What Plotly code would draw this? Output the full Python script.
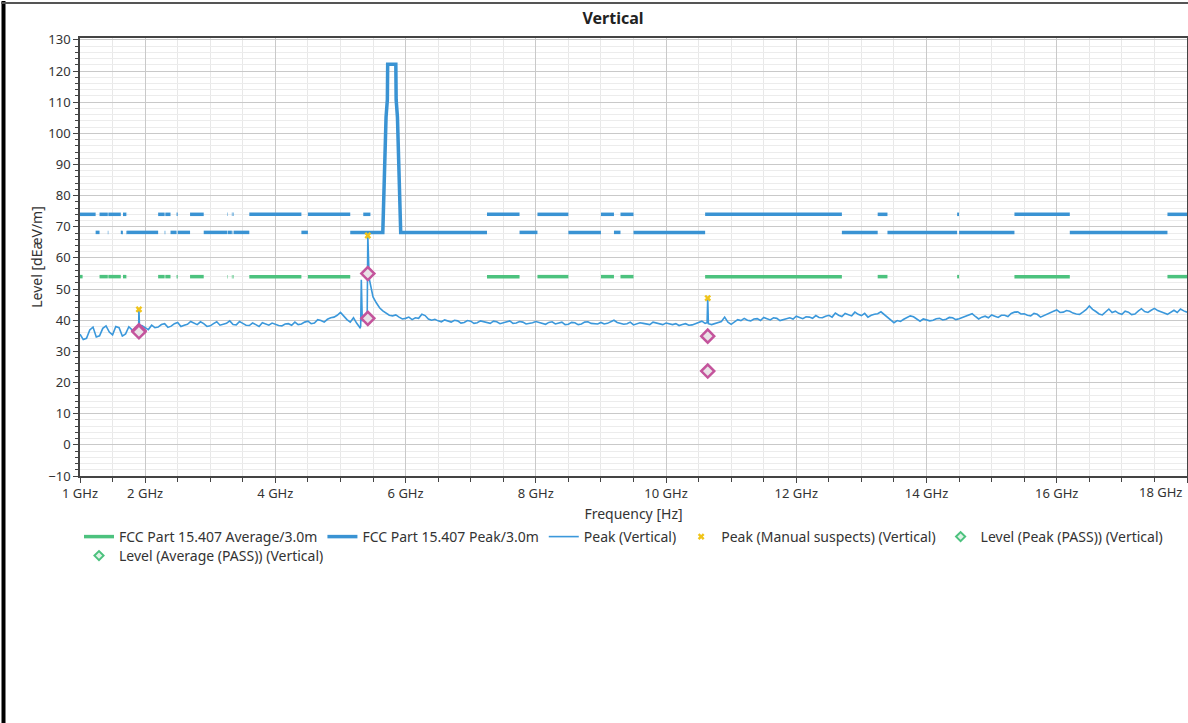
import numpy as np
import plotly.graph_objects as go

# ---- limit lines (GHz, dBuV/m) ----
# restricted bands: peak limit 74, average limit 54
restricted_bands = [
    (1.0, 1.24), (1.3, 1.427), (1.435, 1.6265), (1.6455, 1.6465), (1.66, 1.71),
    (1.7188, 1.7222), (2.2, 2.3), (2.31, 2.39), (2.4835, 2.5), (2.69, 2.9),
    (3.26, 3.267), (3.332, 3.339), (3.3458, 3.358), (3.6, 4.4), (4.5, 5.15),
    (5.35, 5.46), (7.25, 7.75), (8.025, 8.5), (9.0, 9.2), (9.3, 9.5),
    (10.6, 12.7), (13.25, 13.4), (14.47, 14.5), (15.35, 16.2), (17.7, 18.0),
]
avg_bands = [
    (1.0, 1.04), (1.3, 1.427), (1.435, 1.6265), (1.6455, 1.6465), (1.66, 1.71),
    (1.7188, 1.7222), (2.2, 2.3), (2.31, 2.39), (2.4835, 2.5), (2.69, 2.9),
    (3.26, 3.267), (3.332, 3.339), (3.3458, 3.358), (3.6, 4.4), (4.5, 5.15),
    (7.25, 7.75), (8.025, 8.5), (9.0, 9.2), (9.3, 9.5),
    (10.6, 12.7), (13.25, 13.4), (14.47, 14.5), (15.35, 16.2), (17.7, 18.0),
]
# non-restricted stretches: peak limit 68.2
open_bands = [
    (1.24, 1.3), (1.427, 1.435), (1.6265, 1.6455), (1.6465, 1.66), (1.71, 1.7188),
    (1.7222, 2.2), (2.3, 2.31), (2.39, 2.4835), (2.5, 2.69), (2.9, 3.26),
    (3.267, 3.332), (3.339, 3.3458), (3.358, 3.6), (4.4, 4.5),
    (7.75, 8.025), (8.5, 9.0), (9.2, 9.3), (9.5, 10.6), (12.7, 13.25),
    (13.4, 14.47), (14.5, 15.35), (16.2, 17.7),
]
# 5.15-7.25 GHz stretch with the 5.725-5.85 GHz band mask
mask_freq = [5.15, 5.65, 5.7, 5.72, 5.725, 5.85, 5.855, 5.875, 5.925, 7.25]
mask_level = [68.2, 68.2, 105.2, 110.8, 122.2, 122.2, 110.8, 105.2, 68.2, 68.2]
peak_restricted_level = 74.0
peak_open_level = 68.2
avg_level = 54.0

# ---- measured peak trace ----
# points on the 0.1 GHz grid (1.0 ... 18.0)
sweep_freq = np.round(np.arange(1.0, 18.001, 0.1), 2)
sweep_level = [
    35.5, 34.2, 37.8, 35.0, 38.2, 35.3, 37.6, 35.6, 36.9, 37.0,   # 1.0-1.9
    37.6, 38.4, 37.8, 38.9, 38.1, 39.3, 38.4, 39.6, 38.6, 38.9,   # 2.0-2.9
    38.2, 39.5, 38.7, 39.8, 38.5, 39.0, 38.3, 38.6, 39.2, 38.4,   # 3.0-3.9
    38.7, 38.2, 38.9, 39.4, 38.8, 39.7, 39.1, 39.9, 40.3, 41.0,   # 4.0-4.9
    42.5, 40.2, 40.8, 37.6, 40.9, 47.5, 44.0, 42.2, 41.4, 41.0,   # 5.0-5.9
    40.6, 40.2, 40.6, 41.5, 40.0, 39.8, 40.1, 39.4, 39.8, 39.3,   # 6.0-6.9
    39.7, 39.2, 39.6, 39.0, 39.5, 39.2, 39.8, 39.1, 39.4, 38.9,   # 7.0-7.9
    39.6, 39.0, 39.3, 38.8, 39.4, 38.7, 39.2, 38.8, 39.5, 38.9,   # 8.0-8.9
    39.3, 39.0, 40.0, 39.1, 38.9, 38.5, 39.2, 38.9, 39.4, 38.8,   # 9.0-9.9
    39.1, 38.6, 38.3, 38.9, 38.5, 39.4, 39.0, 38.6, 39.3, 41.0,   # 10.0-10.9
    38.7, 40.2, 40.6, 39.8, 40.5, 40.9, 40.1, 40.6, 40.2, 40.8,   # 11.0-11.9
    41.3, 40.5, 41.0, 41.5, 40.8, 41.6, 42.3, 41.2, 41.8, 42.6,   # 12.0-12.9
    41.5, 41.0, 41.9, 42.7, 40.8, 39.2, 39.6, 40.8, 41.1, 39.7,   # 13.0-13.9
    40.2, 40.0, 40.6, 40.3, 40.8, 40.5, 41.2, 42.1, 40.4, 41.3,   # 14.0-14.9
    41.7, 40.9, 41.6, 42.2, 42.7, 42.1, 41.4, 41.9, 41.5, 42.4,   # 15.0-15.9
    43.3, 42.6, 42.9, 42.0, 42.6, 44.6, 42.8, 41.7, 43.6, 42.9,   # 16.0-16.9
    41.9, 42.6, 42.0, 43.7, 42.5, 43.8, 42.8, 41.9, 43.2, 43.6,   # 17.0-17.9
    42.6,                                                         # 18.0
]
# points between the grid (1.05 ... 17.95)
mid_freq = np.round(np.arange(1.05, 17.96, 0.1), 2)
mid_level = [
    33.8, 36.9, 34.6, 37.4, 36.2, 38.0, 34.9, 37.9, 35.8, 38.3,   # 1.05-1.95
    37.0, 37.6, 38.6, 37.7, 38.9, 38.0, 38.7, 39.1, 39.5, 38.0,   # 2.05-2.95
    38.9, 38.4, 39.0, 38.6, 39.6, 38.4, 39.1, 38.0, 38.8, 39.1,   # 3.05-3.95
    38.3, 38.8, 38.4, 38.6, 39.4, 38.9, 40.2, 39.4, 40.8, 41.6,   # 4.05-4.95
    41.2, 39.4, 39.0, 40.0, 52.3, 45.6, 43.0, 41.6, 41.7, 40.4,   # 5.05-5.95
    41.0, 40.8, 41.9, 40.4, 40.3, 39.5, 39.7, 40.0, 39.1, 39.9,   # 6.05-6.95
    39.0, 39.8, 39.3, 39.7, 38.9, 39.4, 39.0, 39.6, 38.8, 39.2,   # 7.05-7.95
    39.3, 38.7, 39.5, 39.1, 38.6, 39.3, 38.6, 39.4, 39.0, 38.8,   # 8.05-8.95
    38.8, 39.6, 39.3, 38.7, 39.4, 38.8, 39.0, 38.6, 39.1, 38.6,   # 9.05-9.95
    38.9, 38.9, 38.6, 38.4, 38.9, 39.7, 38.9, 39.0, 39.6, 39.4,   # 10.05-10.95
    39.5, 39.9, 40.0, 40.4, 39.9, 40.5, 40.8, 39.9, 40.6, 40.4,   # 11.05-11.95
    40.9, 41.1, 40.6, 40.9, 41.3, 41.0, 41.6, 42.2, 41.4, 41.9,   # 12.05-12.95
    42.2, 41.6, 42.1, 41.8, 40.0, 39.9, 40.3, 41.4, 40.3, 40.4,   # 13.05-13.95
    39.8, 40.5, 40.1, 40.9, 40.2, 40.9, 41.6, 41.2, 41.0, 40.8,   # 14.05-14.95
    41.3, 41.6, 41.2, 42.6, 42.0, 41.6, 42.2, 41.0, 42.1, 42.9,   # 15.05-15.95
    42.5, 43.1, 42.3, 41.9, 43.4, 43.5, 42.0, 42.8, 42.5, 42.2,   # 16.05-16.95
    42.9, 41.8, 42.9, 42.8, 43.2, 43.1, 42.3, 42.6, 42.5, 43.0,   # 17.05-17.95
]
# narrow emissions (suspects)
spike_freq = [1.895, 1.905, 1.915, 5.31, 5.32, 5.335, 5.36, 5.41, 5.42, 5.44,
              5.46, 5.48, 10.63, 10.64]
spike_level = [37.0, 43.5, 37.2, 38.0, 53.0, 39.8, 40.6, 40.4, 67.2, 53.5,
               51.2, 49.0, 39.2, 47.1]

# ---- final measurement markers ----
suspect_freq = [1.905, 5.42, 10.64]
suspect_level = [43.5, 67.2, 47.1]
pk_pass_freq = [1.905, 5.42, 10.64]
pk_pass_level = [36.6, 55.0, 34.9]
av_pass_freq = [1.905, 5.42, 10.64]
av_pass_level = [36.3, 40.6, 23.7]

x_tick_vals = [1, 2, 4, 6, 8, 10, 12, 14, 16, 18]
x_tick_text = ["1 GHz", "2 GHz", "4 GHz", "6 GHz", "8 GHz", "10 GHz",
               "12 GHz", "14 GHz", "16 GHz", ""]

BLUE = "#3a93d3"
TRACE = "#3b98db"
GREEN = "#4cc27e"
PINK = "#c4549c"
YELLOW = "#f0c419"
FONT = "Noto Sans, Open Sans, sans-serif"

W, H = 1188, 723
ML, MR, MT, MB = 80, 1, 38, 247
PW, PH = W - ML - MR, H - MT - MB


def seg_xy(bands, level):
    xs, ys = [], []
    for a, b in bands:
        xs += [a, b, None]
        ys += [level, level, None]
    return xs, ys


avg_x, avg_y = seg_xy(avg_bands, avg_level)
pk_x, pk_y = seg_xy(restricted_bands, peak_restricted_level)
op_x, op_y = seg_xy(open_bands, peak_open_level)
pk_x += op_x + mask_freq
pk_y += op_y + mask_level

tr_f = np.concatenate([sweep_freq, mid_freq, spike_freq])
tr_v = np.concatenate([sweep_level, mid_level, spike_level])
order = np.argsort(tr_f, kind="stable")
tr_f, tr_v = tr_f[order], tr_v[order]

fig = go.Figure()
fig.add_trace(go.Scatter(x=avg_x, y=avg_y, mode="lines", name="FCC Part 15.407 Average/3.0m",
                         line=dict(color=GREEN, width=3.5)))
fig.add_trace(go.Scatter(x=pk_x, y=pk_y, mode="lines", name="FCC Part 15.407 Peak/3.0m",
                         line=dict(color=BLUE, width=3.5)))
fig.add_trace(go.Scatter(x=tr_f, y=tr_v, mode="lines", name="Peak (Vertical)",
                         line=dict(color=TRACE, width=1.6)))
fig.add_trace(go.Scatter(x=suspect_freq, y=suspect_level, mode="markers",
                         name="Peak (Manual suspects) (Vertical)",
                         marker=dict(symbol="x", size=6, color=YELLOW, line=dict(width=0))))
for fx, fy in [(pk_pass_freq, pk_pass_level), (av_pass_freq, av_pass_level)]:
    fig.add_trace(go.Scatter(x=fx, y=fy, mode="markers", showlegend=False,
                             marker=dict(symbol="diamond", size=10, color="#e9e2e7",
                                         line=dict(color=PINK, width=2.5))))
fig.add_trace(go.Scatter(x=[None], y=[None], mode="markers", name="Level (Peak (PASS)) (Vertical)",
                         marker=dict(symbol="diamond", size=7, color="#dff3e7",
                                     line=dict(color=GREEN, width=2))))
fig.add_trace(go.Scatter(x=[None], y=[None], mode="markers", name="Level (Average (PASS)) (Vertical)",
                         legend="legend2",
                         marker=dict(symbol="diamond", size=7, color="#dff3e7",
                                     line=dict(color=GREEN, width=2))))


def px(x):
    return (x - ML) / PW


def py(y):
    return (H - MB - y) / PH


shapes = [
    dict(type="line", xref="paper", yref="paper", x0=px(3.5), x1=px(3.5), y0=py(1), y1=py(H),
         line=dict(color="black", width=4)),
    dict(type="line", xref="paper", yref="paper", x0=px(1), x1=px(W), y0=py(3), y1=py(3),
         line=dict(color="#555", width=2)),
]

legend_style = dict(orientation="h", x=px(79), xanchor="left", yanchor="top",
                    font=dict(size=14, color="#333"), itemwidth=30,
                    bgcolor="rgba(0,0,0,0)")

fig.update_layout(
    width=W, height=H,
    margin=dict(l=ML, r=MR, t=MT, b=MB),
    paper_bgcolor="white", plot_bgcolor="white",
    font=dict(family=FONT, size=13, color="#333"),
    title=dict(text="<b>Vertical</b>", x=613 / W, xanchor="center", y=1 - 18 / H, yanchor="middle",
               font=dict(size=16, color="#222")),
    showlegend=True,
    legend=dict(legend_style, y=py(521)),
    legend2=dict(legend_style, y=py(540)),
    shapes=shapes,
    annotations=[dict(x=18, y=0, xref="x", yref="paper", text="18 GHz", showarrow=False,
                      xanchor="right", yanchor="top", yshift=-5, xshift=-3,
                      font=dict(size=13, color="#333"))],
)
fig.update_xaxes(
    range=[1, 18], tickvals=x_tick_vals, ticktext=x_tick_text,
    showline=True, linecolor="#444", linewidth=1.5, mirror=True,
    ticks="outside", ticklen=5, tickcolor="#444",
    showgrid=True, gridcolor="#c9c9c9", gridwidth=1, zeroline=False,
    minor=dict(dtick=0.5, tick0=1, ticks="outside", ticklen=4, tickcolor="#444",
               showgrid=True, gridcolor="#e8e8e8"),
    title=dict(text="Frequency [Hz]", font=dict(size=14, color="#333"), standoff=8),
    automargin=False,
)
fig.update_yaxes(
    range=[-10, 130.6], dtick=10, tick0=0,
    showline=True, linecolor="#444", linewidth=1.5, mirror=True,
    ticks="outside", ticklen=5, tickcolor="#444",
    showgrid=True, gridcolor="#c9c9c9", gridwidth=1, zeroline=False,
    minor=dict(dtick=2, ticks="outside", ticklen=3, tickcolor="#444",
               showgrid=True, gridcolor="#ececec"),
    title=dict(text="Level [dEæV/m]", font=dict(size=14, color="#333"), standoff=2),
    automargin=False,
)

fig.write_html("out.html", config={"displayModeBar": False},
               post_script="document.body.style.margin = '0px';")
